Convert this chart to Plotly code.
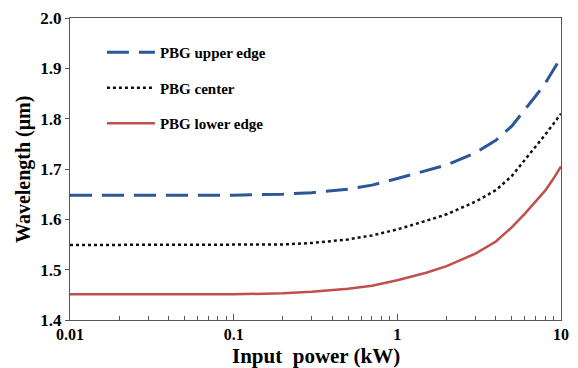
import plotly.graph_objects as go

power_kw = [0.01, 0.02, 0.05, 0.1, 0.2, 0.3, 0.5, 0.7, 1, 1.5, 2, 3, 4, 5, 6, 7, 8, 9, 10]
upper_edge = [1.648, 1.648, 1.648, 1.648, 1.650, 1.653, 1.660, 1.668, 1.681, 1.696, 1.708,
              1.732, 1.757, 1.785, 1.817, 1.845, 1.870, 1.897, 1.922]
center = [1.549, 1.549, 1.549, 1.549, 1.550, 1.553, 1.560, 1.568, 1.580, 1.597, 1.610,
          1.635, 1.658, 1.686, 1.717, 1.745, 1.768, 1.790, 1.810]
lower_edge = [1.451, 1.451, 1.451, 1.451, 1.453, 1.456, 1.462, 1.468, 1.479, 1.494, 1.507,
              1.532, 1.556, 1.584, 1.611, 1.635, 1.657, 1.681, 1.705]

names = ["PBG upper edge", "PBG center", "PBG lower edge"]
x_ticks = [0.01, 0.1, 1, 10]
x_ticklabels = ["0.01", "0.1", "1", "10"]
minor_vals = [m * d for d in (0.01, 0.1, 1) for m in range(2, 10)]

font_family = "Liberation Serif, Times New Roman, serif"

fig = go.Figure()
fig.add_trace(go.Scatter(x=power_kw, y=upper_edge, mode="lines", name=names[0],
                         legendgroup="a",
                         line=dict(color="#2B5797", width=3, dash="22px,10px")))
fig.add_trace(go.Scatter(x=power_kw, y=center, mode="lines", name=names[1],
                         legendgroup="b",
                         line=dict(color="#111111", width=2.5, dash="dot")))
fig.add_trace(go.Scatter(x=power_kw, y=lower_edge, mode="lines", name=names[2],
                         legendgroup="c",
                         line=dict(color="#C0504D", width=2.5)))

fig.update_layout(
    width=578, height=368,
    margin=dict(l=70, r=9, t=18, b=48),
    paper_bgcolor="white", plot_bgcolor="white",
    font=dict(family=font_family, color="black"),
    legend=dict(x=0.065, y=0.94, xanchor="left", yanchor="top",
                bgcolor="rgba(0,0,0,0)", tracegroupgap=13, itemwidth=48,
                font=dict(size=15, family=font_family, color="black", weight="bold")),
    xaxis=dict(type="log", range=[-2, 1], tickvals=x_ticks, ticktext=x_ticklabels,
               ticks="inside", ticklen=6, tickcolor="#555", showgrid=False, zeroline=False,
               showline=True, linecolor="#555", linewidth=1, mirror=True,
               ticklabelstandoff=0,
               minor=dict(tickmode="array", tickvals=minor_vals, ticks="inside",
                          ticklen=4, tickcolor="#555", showgrid=False),
               tickfont=dict(size=16, family=font_family, weight="bold")),
    yaxis=dict(range=[1.4, 2.0], dtick=0.1, tickformat=".1f",
               ticks="outside", ticklen=4, tickcolor="#555", showgrid=False, zeroline=False,
               showline=True, linecolor="#555", linewidth=1, mirror=True,
               tickfont=dict(size=17, family=font_family, weight="bold")),
    annotations=[
        dict(text="Input\u00a0 power (kW)", xref="paper", yref="paper",
             x=0.5, y=0, yshift=-36, xanchor="center", yanchor="middle",
             showarrow=False, borderpad=0,
             font=dict(size=21, family=font_family, weight="bold", color="black")),
        dict(text="Wavelength (μm)", xref="paper", yref="paper", textangle=-90,
             x=0, y=0.5, xshift=-47, yshift=-1, xanchor="center", yanchor="middle",
             showarrow=False, borderpad=0,
             font=dict(size=20, family=font_family, weight="bold", color="black")),
    ],
)

fig.write_html("out.html")
